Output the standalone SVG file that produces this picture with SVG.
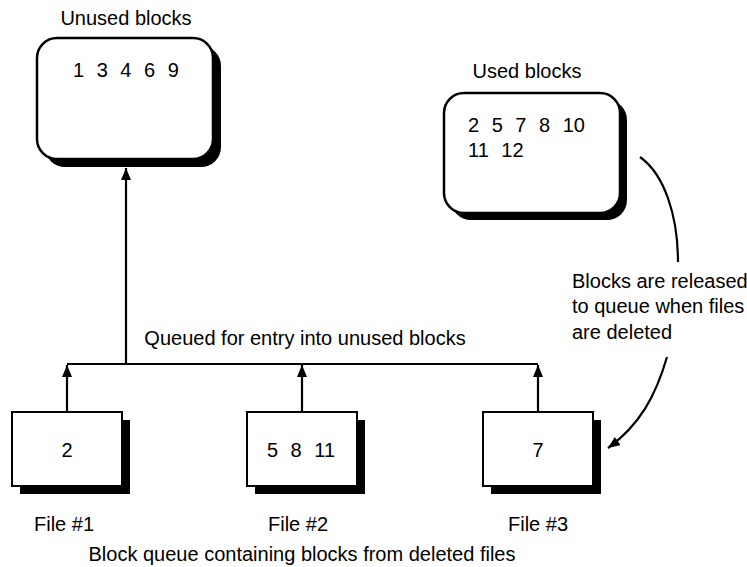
<svg xmlns="http://www.w3.org/2000/svg" width="747" height="567" viewBox="0 0 747 567">
<style>
text{font-family:"Liberation Sans",Arial,sans-serif;font-size:20px;fill:#000}
.mid{text-anchor:middle}
.num{word-spacing:7px}
.box{fill:#fff;stroke:#000;stroke-width:2.5}
.sbox{fill:#fff;stroke:#000;stroke-width:2}
.shadow{fill:#000}
.ln{fill:none;stroke:#000;stroke-width:2.2}
</style>
<defs>
<marker id="ah" viewBox="0 0 12 10" refX="12" refY="5" markerWidth="12" markerHeight="10" markerUnits="userSpaceOnUse" orient="auto">
<path d="M0,0 L12,5 L0,10 Z" fill="#000"/>
</marker>
</defs>
<rect width="747" height="567" fill="#fff"/>
<g id="unused">
<text class="mid" x="126" y="25">Unused blocks</text>
<rect class="shadow" x="45" y="46" width="176" height="121" rx="20"/>
<rect class="box" x="37" y="38" width="176" height="121" rx="20"/>
<text class="num" x="73" y="77">1 3 4 6 9</text>
</g>
<g id="used">
<text class="mid" x="527" y="78">Used blocks</text>
<rect class="shadow" x="451" y="100" width="176" height="120" rx="20"/>
<rect class="box" x="444" y="93" width="176" height="120" rx="20"/>
<text class="num" x="468" y="132">2 5 7 8 10</text>
<text class="num" x="468" y="157">11  12</text>
</g>
<g id="file1">
<rect class="shadow" x="20" y="420" width="110" height="74"/>
<rect class="sbox" x="12" y="412" width="110" height="74"/>
<text class="mid" x="67" y="457">2</text>
<text class="mid" x="64" y="531">File #1</text>
</g>
<g id="file2">
<rect class="shadow" x="255" y="420" width="110" height="74"/>
<rect class="sbox" x="247" y="412" width="110" height="74"/>
<text class="mid num" x="301" y="457">5 8 11</text>
<text class="mid" x="298" y="531">File #2</text>
</g>
<g id="file3">
<rect class="shadow" x="491" y="420" width="110" height="74"/>
<rect class="sbox" x="483" y="412" width="110" height="74"/>
<text class="mid" x="538" y="457">7</text>
<text class="mid" x="538" y="531">File #3</text>
</g>
<g id="labels">
<text class="mid" x="305" y="345">Queued for entry into unused blocks</text>
<text x="572" y="288">Blocks are released</text>
<text x="572" y="313">to queue when files</text>
<text x="572" y="339">are deleted</text>
<text class="mid" x="302" y="561">Block queue containing blocks from deleted files</text>
</g>
<g id="connectors">
<path class="ln" d="M67,364 H538"/>
<path class="ln" d="M126,364 V168" marker-end="url(#ah)"/>
<path class="ln" d="M67,412 V365" marker-end="url(#ah)"/>
<path class="ln" d="M302,412 V365" marker-end="url(#ah)"/>
<path class="ln" d="M538,412 V365" marker-end="url(#ah)"/>
<path class="ln" d="M640,157 C664,174 678,215 678,262"/>
<path class="ln" d="M667,357 C656,395 640,425 608,448" marker-end="url(#ah)"/>
</g>
</svg>
